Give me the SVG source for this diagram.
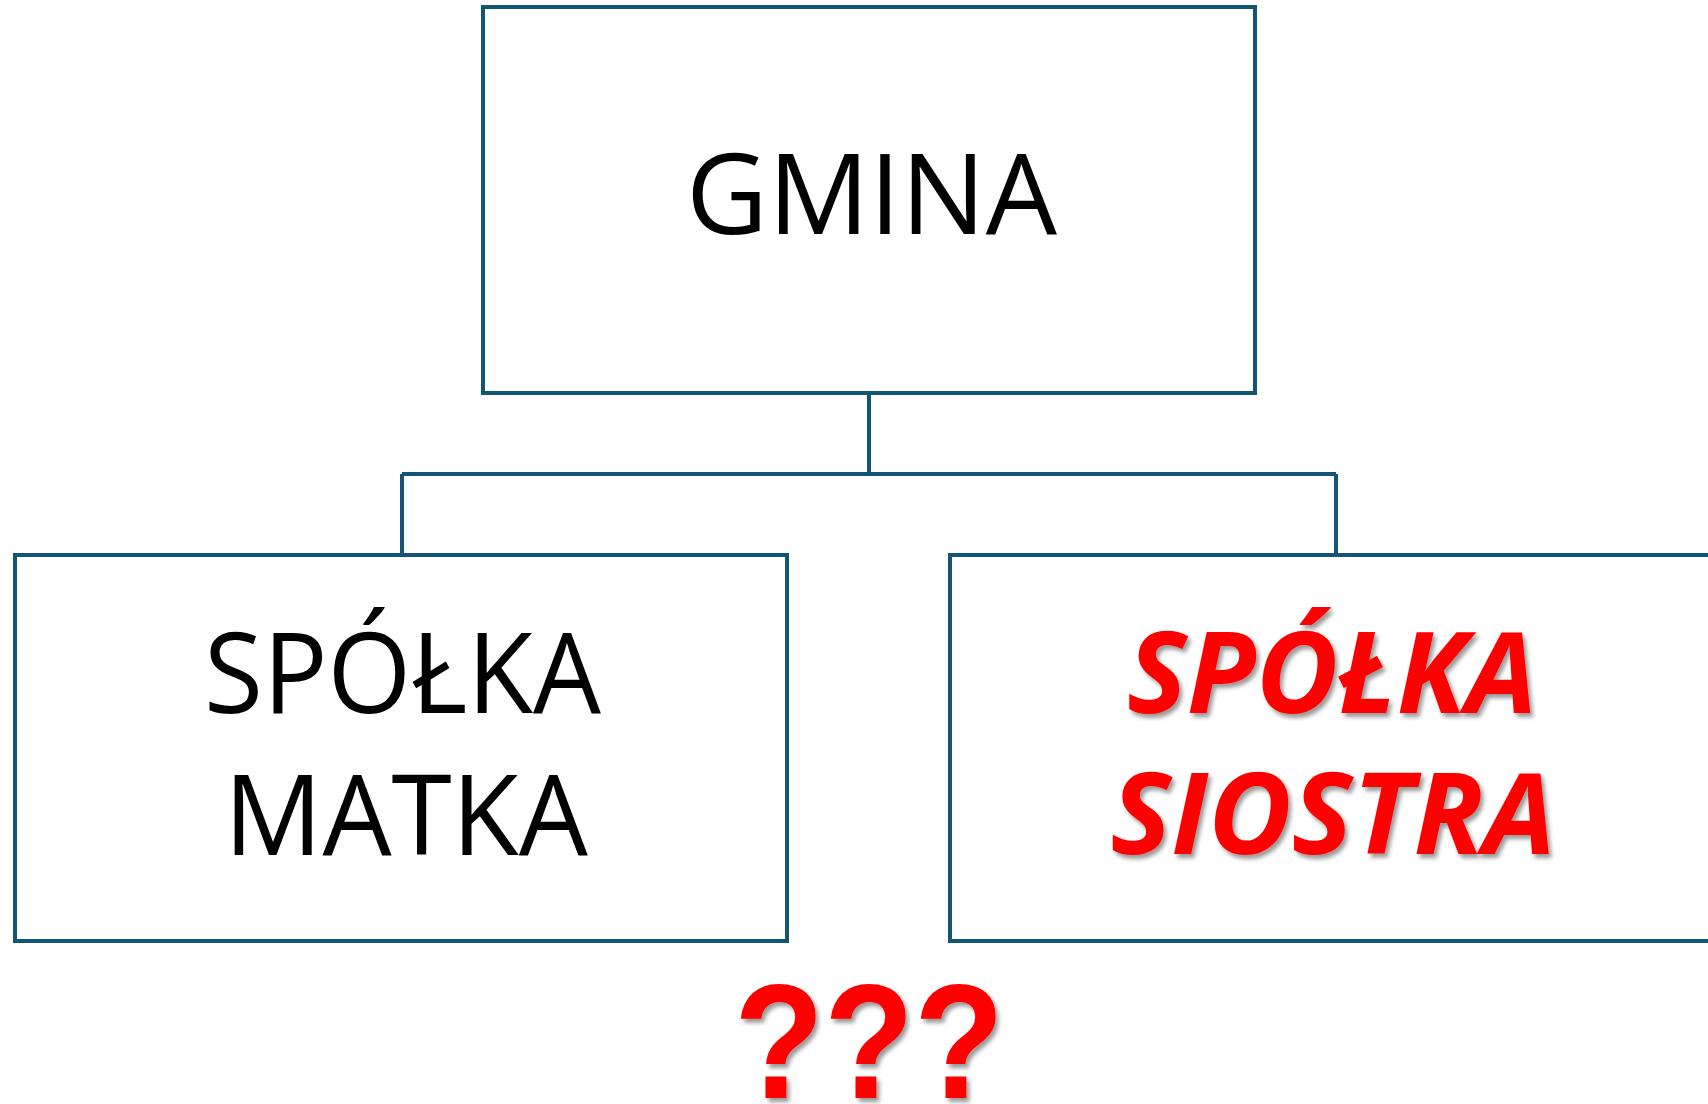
<svg xmlns="http://www.w3.org/2000/svg" width="1708" height="1104" viewBox="0 0 1708 1104">
<style>
.box{fill:#ffffff;stroke:#145474;stroke-width:4}
.conn{fill:none;stroke:#145474;stroke-width:4}
.lbl{font-family:"Open Sans","Liberation Sans",sans-serif;font-size:112px;fill:#000000;text-anchor:middle}
.red{font-family:"Open Sans","Liberation Sans",sans-serif;font-size:113px;font-weight:bold;font-style:italic;fill:#ff0000;text-anchor:middle}
.q{font-family:"Liberation Sans",Arial,sans-serif;font-size:164px;font-weight:bold;fill:#ff0000;text-anchor:middle}
</style>
<defs>
<filter id="sh" x="-10%" y="-10%" width="120%" height="130%">
<feDropShadow dx="3" dy="4" stdDeviation="2" flood-color="#000000" flood-opacity="0.4"/>
</filter>
</defs>
<rect width="1708" height="1104" fill="#ffffff"/>
<g id="connectors">
<path class="conn" d="M869 393 V474 M402 474 H1336 M402 474 V555 M1336 474 V555"/>
</g>
<g id="gmina">
<rect class="box" x="483" y="7" width="772" height="386"/>
<text class="lbl" x="871.5" y="234" textLength="371" lengthAdjust="spacingAndGlyphs">GMINA</text>
</g>
<g id="spolka-matka">
<rect class="box" x="15" y="555" width="772" height="386"/>
<text class="lbl" x="402.5" y="713" textLength="397" lengthAdjust="spacingAndGlyphs">SPÓŁKA</text>
<text class="lbl" x="406" y="855" textLength="364" lengthAdjust="spacingAndGlyphs">MATKA</text>
</g>
<g id="spolka-siostra">
<rect class="box" x="950" y="555" width="772" height="386"/>
<g filter="url(#sh)">
<text class="red" x="1332" y="713" textLength="410" lengthAdjust="spacingAndGlyphs">SPÓŁKA</text>
<text class="red" x="1333" y="854" textLength="445" lengthAdjust="spacingAndGlyphs">SIOSTRA</text>
</g>
</g>
<g id="questions" filter="url(#sh)">
<text class="q" x="869" y="1098" textLength="270" lengthAdjust="spacingAndGlyphs">???</text>
</g>
</svg>
